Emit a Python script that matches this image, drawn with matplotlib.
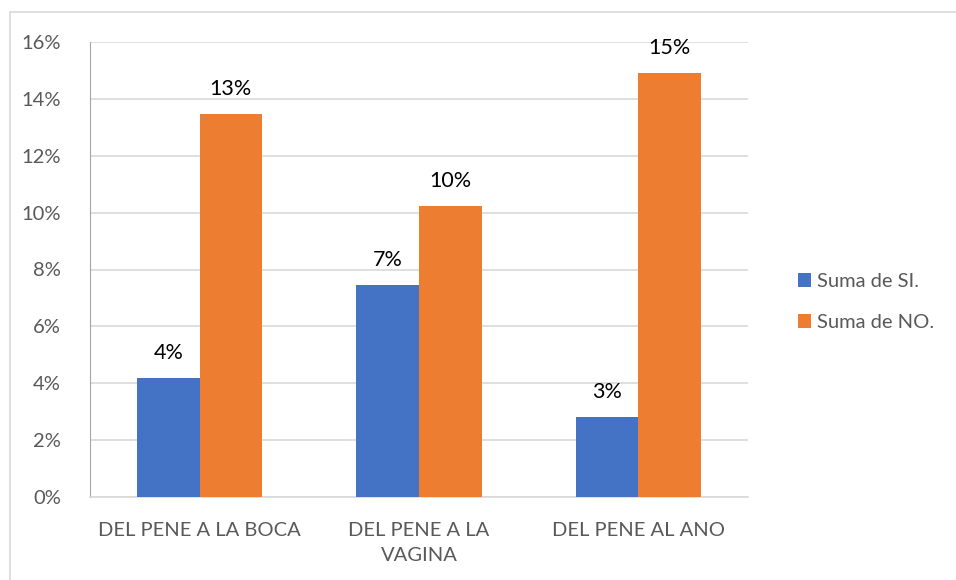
import numpy as np
import matplotlib.pyplot as plt
from matplotlib.patches import Rectangle
from matplotlib.ticker import PercentFormatter

plt.rcParams['font.family'] = ['Lato', 'DejaVu Sans']

# Data
categorias = ['DEL PENE A LA BOCA', 'DEL PENE A LA\nVAGINA', 'DEL PENE AL ANO']
suma_si = [0.0418, 0.0745, 0.0281]
suma_no = [0.1348, 0.1023, 0.1490]

fig = plt.figure(figsize=(9.56, 5.8), dpi=100)
ax = fig.add_axes([90 / 956, 83 / 580, 658 / 956, 455 / 580])

# Outer chart frame
fig.patches.append(Rectangle((10 / 956, -0.1), 1.0, (580 - 12) / 580 + 0.1,
                             transform=fig.transFigure, fill=False,
                             edgecolor='#d9d9d9', linewidth=1.2))

x = np.arange(len(categorias))
w = 0.285
b1 = ax.bar(x - w / 2, suma_si, w, color='#4472c4', label='Suma de SI.', zorder=3)
b2 = ax.bar(x + w / 2, suma_no, w, color='#ed7d31', label='Suma de NO.', zorder=3)

# Data labels
for bars in (b1, b2):
    for r in bars:
        v = r.get_height()
        ax.text(r.get_x() + r.get_width() / 2, v + 0.0052, f'{v * 100:.0f}%',
                ha='center', va='bottom', fontsize=15.5, color='black')

ax.set_xlim(-0.5, 2.5)
ax.set_ylim(0, 0.16)
ax.set_yticks(np.arange(0, 0.161, 0.02))
ax.yaxis.set_major_formatter(PercentFormatter(1.0, decimals=0))
ax.set_xticks(x)
ax.set_xticklabels(categorias, linespacing=1.6)
ax.tick_params(axis='both', length=0, labelsize=14.5, labelcolor='#595959')
ax.tick_params(axis='x', pad=18)
ax.tick_params(axis='y', pad=21)

ax.grid(axis='y', color='#d9d9d9', linewidth=1.2, zorder=0)
for s in ['top', 'right']:
    ax.spines[s].set_visible(False)
ax.spines['left'].set_color('#a6a6a6')
ax.spines['bottom'].set_color('#d9d9d9')
ax.spines['bottom'].set_linewidth(1.2)

ax.legend(loc='center left', bbox_to_anchor=(780 / 956, 278 / 580),
          bbox_transform=fig.transFigure, frameon=False, fontsize=14.5,
          handlelength=0.65, handleheight=0.65, handletextpad=0.3,
          labelspacing=1.2, labelcolor='#595959')

fig.savefig('out.png', dpi=100)
